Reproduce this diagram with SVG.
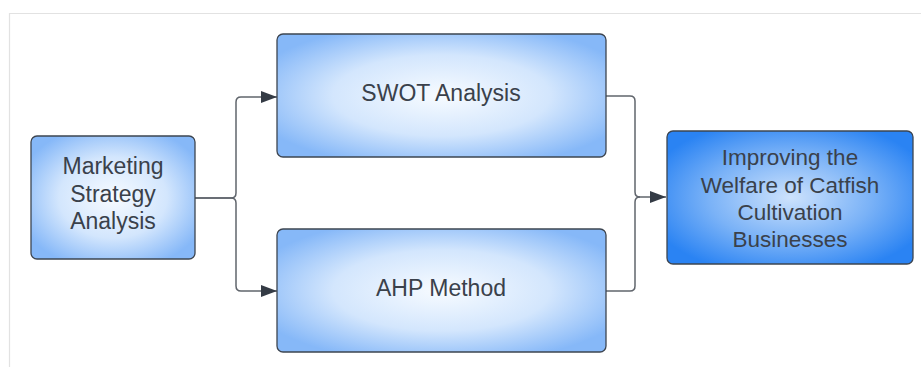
<svg xmlns="http://www.w3.org/2000/svg" width="921" height="367" viewBox="0 0 921 367">
<defs>
<radialGradient id="gLight" cx="0.5" cy="0.5" r="0.6">
<stop offset="0" stop-color="#f7fbff"/>
<stop offset="0.55" stop-color="#d3e6fd"/>
<stop offset="1" stop-color="#86b8f8"/>
</radialGradient>
<radialGradient id="gDark" cx="0.5" cy="0.5" r="0.6">
<stop offset="0" stop-color="#cde2fc"/>
<stop offset="0.55" stop-color="#7ab2f7"/>
<stop offset="1" stop-color="#2a83f3"/>
</radialGradient>
<marker id="arr" viewBox="0 0 16 12" refX="16" refY="6" markerWidth="16" markerHeight="12" markerUnits="userSpaceOnUse" orient="auto">
<path d="M0,0 L16,6 L0,12 Z" fill="#343b45"/>
</marker>
</defs>
<style>
.box{stroke:#3d4550;stroke-width:1.3}
.t{font-family:"Liberation Sans",Arial,sans-serif;font-size:23px;fill:#3a414b;text-anchor:middle}
.tw{font-size:22.5px}
.c{fill:none;stroke:#60656c;stroke-width:1.5}
</style>
<rect width="921" height="367" fill="#ffffff"/>
<path d="M9.5,367 V13.5 H921" fill="none" stroke="#e2e2e2" stroke-width="1.2"/>
<g id="connectors">
<path class="c" d="M195,198 H231 Q236,198 236,193 V102 Q236,97 241,97 H277" marker-end="url(#arr)"/>
<path class="c" d="M195,198 H231 Q236,198 236,203 V286 Q236,291 241,291 H277" marker-end="url(#arr)"/>
<path class="c" d="M606,96 H630 Q635,96 635,101 V192 Q635,197 640,197 H666" marker-end="url(#arr)"/>
<path class="c" d="M606,291 H630 Q635,291 635,286 V202 Q635,197 640,197"/>
</g>
<g id="marketing">
<rect class="box" x="31" y="136" width="164" height="123" rx="6" fill="url(#gLight)"/>
<text class="t" x="113" y="174">Marketing</text>
<text class="t" x="113" y="202">Strategy</text>
<text class="t" x="113" y="229">Analysis</text>
</g>
<g id="swot">
<rect class="box" x="277" y="34" width="329" height="123" rx="6" fill="url(#gLight)"/>
<text class="t" x="441" y="101">SWOT Analysis</text>
</g>
<g id="ahp">
<rect class="box" x="277" y="229" width="329" height="123" rx="6" fill="url(#gLight)"/>
<text class="t" x="441" y="296">AHP Method</text>
</g>
<g id="welfare">
<rect class="box" x="667" y="131" width="246" height="133" rx="6" fill="url(#gDark)"/>
<text class="t tw" x="790" y="165">Improving the</text>
<text class="t tw" x="790" y="193">Welfare of Catfish</text>
<text class="t tw" x="790" y="220">Cultivation</text>
<text class="t tw" x="790" y="247">Businesses</text>
</g>
</svg>
